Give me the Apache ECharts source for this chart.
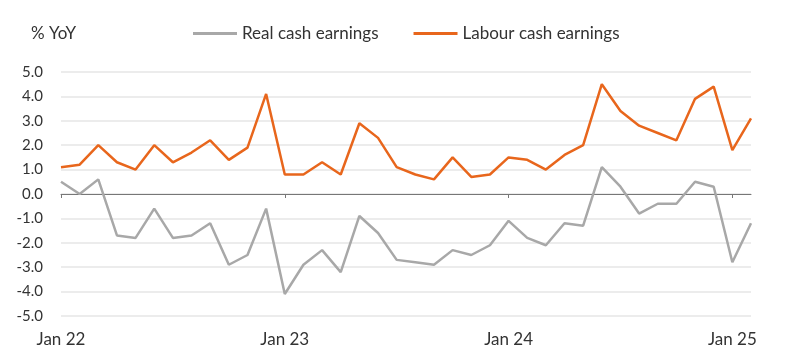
<!DOCTYPE html>
<html><head><meta charset="utf-8">
<script src="https://cdn.jsdelivr.net/npm/echarts@6/dist/echarts.min.js"></script>
<style>html,body{margin:0;padding:0;background:#fff}#c{width:800px;height:364px}</style>
</head><body><div id="c"></div>
<script>
const months = ["Jan 22","Feb 22","Mar 22","Apr 22","May 22","Jun 22","Jul 22","Aug 22","Sep 22","Oct 22","Nov 22","Dec 22",
"Jan 23","Feb 23","Mar 23","Apr 23","May 23","Jun 23","Jul 23","Aug 23","Sep 23","Oct 23","Nov 23","Dec 23",
"Jan 24","Feb 24","Mar 24","Apr 24","May 24","Jun 24","Jul 24","Aug 24","Sep 24","Oct 24","Nov 24","Dec 24",
"Jan 25","Feb 25"];
const realCash = [0.5,0.0,0.6,-1.7,-1.8,-0.6,-1.8,-1.7,-1.2,-2.9,-2.5,-0.6,
-4.1,-2.9,-2.3,-3.2,-0.9,-1.6,-2.7,-2.8,-2.9,-2.3,-2.5,-2.1,
-1.1,-1.8,-2.1,-1.2,-1.3,1.1,0.3,-0.8,-0.4,-0.4,0.5,0.3,
-2.8,-1.2];
const labourCash = [1.1,1.2,2.0,1.3,1.0,2.0,1.3,1.7,2.2,1.4,1.9,4.1,
0.8,0.8,1.3,0.8,2.9,2.3,1.1,0.8,0.6,1.5,0.7,0.8,
1.5,1.4,1.0,1.6,2.0,4.5,3.4,2.8,2.5,2.2,3.9,4.4,
1.8,3.1];
const yTicks = {min:-5, max:5, interval:1};
const labelIdx = [0,12,24,36];

const font = "Lato, 'Noto Sans', sans-serif";
const chart = echarts.init(document.getElementById('c'), null, {renderer:'canvas'});
chart.setOption({
  animation:false,
  textStyle:{fontFamily:font},
  title:{text:'% YoY', left:26, top:20, textStyle:{fontSize:17, fontWeight:'normal', color:'#333', fontFamily:font}},
  legend:{
    top:20, left:188, itemGap:35, itemWidth:44, itemHeight:3, icon:'rect',
    textStyle:{fontSize:17, color:'#333', fontFamily:font},
    data:['Real cash earnings','Labour cash earnings']
  },
  grid:{left:61, right:49, top:72, bottom:48, containLabel:false},
  xAxis:[{
    type:'category', data:months, boundaryGap:false, position:'bottom',
    axisLine:{show:false, onZero:false}, axisTick:{show:false},
    axisLabel:{interval:(i)=>labelIdx.includes(i), color:'#333', fontSize:17, margin:15, fontFamily:font},
    splitLine:{show:false}
  },{
    type:'category', data:months, boundaryGap:false, position:'bottom',
    axisLine:{show:true, onZero:true, lineStyle:{color:'#777', width:1}},
    axisTick:{show:true, interval:(i)=>labelIdx.includes(i), length:4, lineStyle:{color:'#777'}},
    axisLabel:{show:false}, splitLine:{show:false}
  }],
  yAxis:{
    type:'value', min:yTicks.min, max:yTicks.max, interval:yTicks.interval,
    axisLine:{show:false}, axisTick:{show:false},
    axisLabel:{formatter:(v)=>v.toFixed(1), color:'#333', fontSize:15, margin:18, fontFamily:font},
    splitLine:{show:true, lineStyle:{color:'#e6e6e6', width:1.5}}
  },
  series:[{
    name:'Real cash earnings', type:'line', data:realCash, xAxisIndex:0,
    symbol:'none', lineStyle:{color:'#a8a8a8', width:2.5}, itemStyle:{color:'#a8a8a8'}
  },{
    name:'Labour cash earnings', type:'line', data:labourCash, xAxisIndex:0,
    symbol:'none', lineStyle:{color:'#e8661c', width:2.5}, itemStyle:{color:'#e8661c'}
  }]
});
</script></body></html>
